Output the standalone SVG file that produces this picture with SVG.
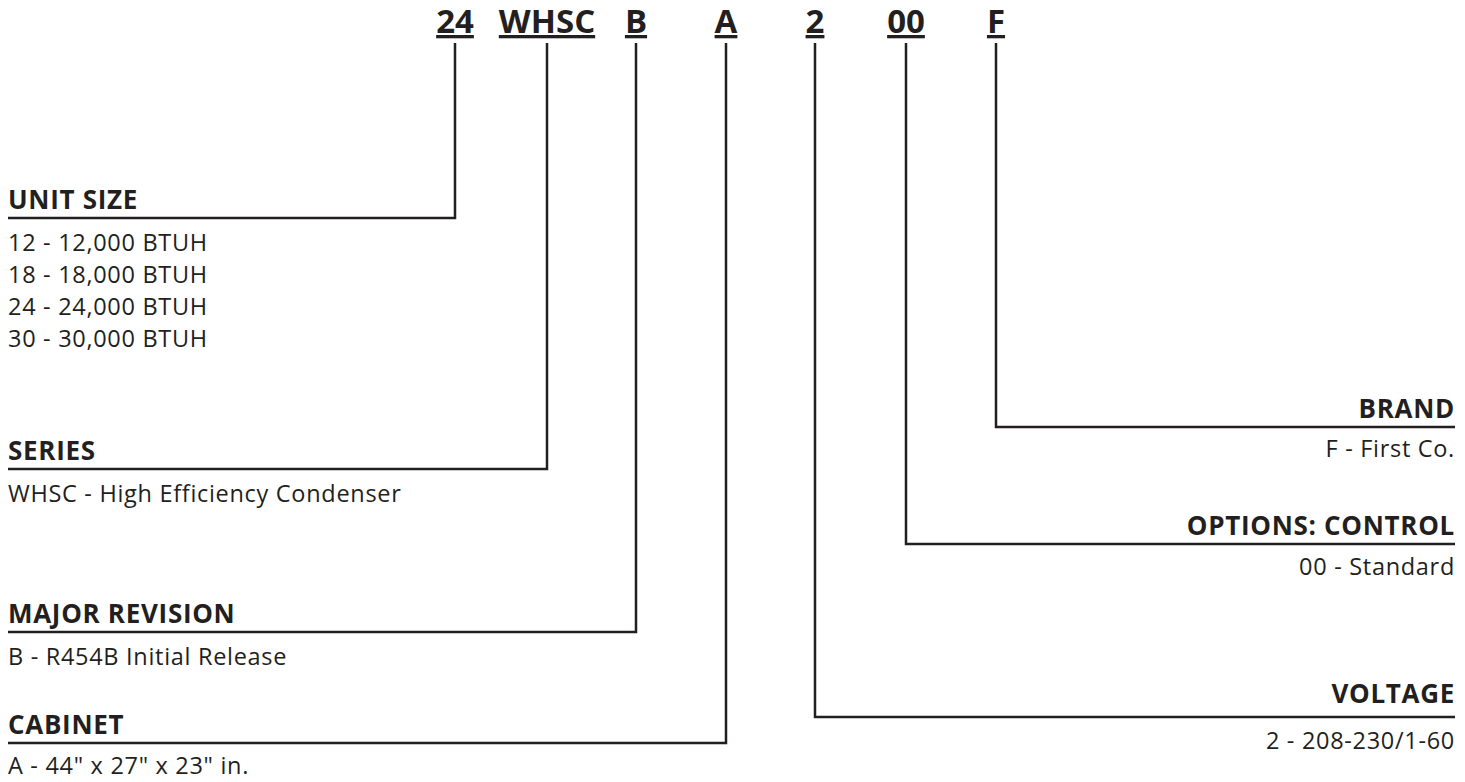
<svg xmlns="http://www.w3.org/2000/svg" width="1465" height="782" viewBox="0 0 1465 782">
<style>
  .code { font-family: "Open Sans", "Liberation Sans", sans-serif; font-weight: 700; font-size: 33px; fill: #231f20; text-anchor: middle; text-decoration: underline; }
  .hd { font-family: "Open Sans", "Liberation Sans", sans-serif; font-weight: 700; font-size: 26px; fill: #231f20; letter-spacing: 0.7px; }
  .tx { font-family: "Open Sans", "Liberation Sans", sans-serif; font-weight: 400; font-size: 23.5px; fill: #231f20; letter-spacing: 0.7px; }
  .r { text-anchor: end; }
  .ln { fill: none; stroke: #231f20; stroke-width: 2.5; }
</style>
<rect width="1465" height="782" fill="#ffffff"/>
<g id="code">
  <text class="code" x="455" y="33">24</text>
  <text class="code" x="547" y="33">WHSC</text>
  <text class="code" x="636" y="33">B</text>
  <text class="code" x="726" y="33">A</text>
  <text class="code" x="815" y="33">2</text>
  <text class="code" x="906" y="33">00</text>
  <text class="code" x="996" y="33">F</text>
</g>
<g id="connectors">
  <polyline class="ln" points="455,43 455,218 8,218"/>
  <polyline class="ln" points="547,43 547,469 8,469"/>
  <polyline class="ln" points="636,43 636,632 8,632"/>
  <polyline class="ln" points="726,43 726,743 8,743"/>
  <polyline class="ln" points="815,43 815,717 1455,717"/>
  <polyline class="ln" points="906,43 906,544 1455,544"/>
  <polyline class="ln" points="996,43 996,427 1455,427"/>
</g>
<g id="unit-size">
  <text class="hd" x="8" y="209">UNIT SIZE</text>
  <text class="tx" x="8" y="251">12 - 12,000 BTUH</text>
  <text class="tx" x="8" y="283">18 - 18,000 BTUH</text>
  <text class="tx" x="8" y="315">24 - 24,000 BTUH</text>
  <text class="tx" x="8" y="347">30 - 30,000 BTUH</text>
</g>
<g id="series">
  <text class="hd" x="8" y="460">SERIES</text>
  <text class="tx" x="8" y="502">WHSC - High Efficiency Condenser</text>
</g>
<g id="major-revision">
  <text class="hd" x="8" y="623">MAJOR REVISION</text>
  <text class="tx" x="8" y="665">B - R454B Initial Release</text>
</g>
<g id="cabinet">
  <text class="hd" x="8" y="734">CABINET</text>
  <text class="tx" x="8" y="774">A - 44" x 27" x 23" in.</text>
</g>
<g id="brand">
  <text class="hd r" x="1455" y="418">BRAND</text>
  <text class="tx r" x="1455" y="457">F - First Co.</text>
</g>
<g id="options-control">
  <text class="hd r" x="1455" y="535">OPTIONS: CONTROL</text>
  <text class="tx r" x="1455" y="575">00 - Standard</text>
</g>
<g id="voltage">
  <text class="hd r" x="1455" y="703">VOLTAGE</text>
  <text class="tx r" x="1455" y="749">2 - 208-230/1-60</text>
</g>
</svg>
